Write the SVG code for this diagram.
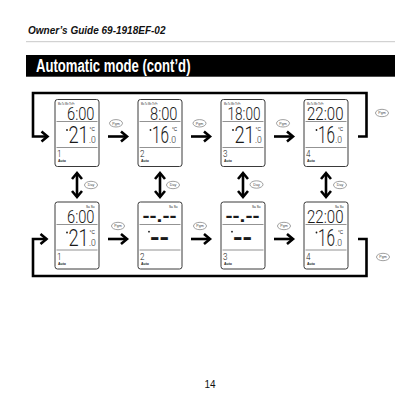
<svg xmlns="http://www.w3.org/2000/svg" width="420" height="420" viewBox="0 0 420 420">
<style>
.box{fill:#fff;stroke:#3a3a3a;stroke-width:1}
.div{stroke:#777;stroke-width:0.8}
text{font-family:"Liberation Sans",Arial,sans-serif}
.days{font-size:3.2px;fill:#222}
.time,.big,.small{font-family:Roboto,"Liberation Sans",sans-serif;font-weight:300;fill:#1a1a1a}
.time{font-size:19px}
.big{font-size:23.7px}
.small{font-size:8.5px}
.dash{font-size:19px;font-weight:bold;fill:#1a1a1a}
.bdash{font-size:23.7px;font-weight:bold;fill:#1a1a1a}
.deg{font-size:6px;fill:#1a1a1a}
.prog{font-family:Roboto,"Liberation Sans",sans-serif;font-weight:300;font-size:9.5px;fill:#1a1a1a}
.auto{font-size:3.5px;font-weight:bold;fill:#222}
.dot{fill:#1a1a1a}
.conn{stroke:#000;stroke-width:2.6;fill:none}
.oval{fill:#fff;stroke:#777;stroke-width:0.7}
.olbl{font-size:3.6px;fill:#444;text-anchor:middle}
</style>
<defs>
<marker id="ah" markerUnits="userSpaceOnUse" viewBox="0 0 10 12" markerWidth="10" markerHeight="12" refX="8.6" refY="6" orient="auto-start-reverse" overflow="visible">
<path d="M2.6,1 L8.6,6 L2.6,11" fill="none" stroke="#000" stroke-width="2.6"/>
</marker>
</defs>

<g id="header">
<text x="28" y="34.3" font-weight="bold" font-style="italic" font-size="10" fill="#111">Owner’s Guide 69-1918EF-02</text>
<line x1="26" y1="41.7" x2="395" y2="41.7" stroke="#c8c8c8" stroke-width="1"/>
<rect x="26" y="55" width="369" height="21.7" fill="#000"/>
<text x="36" y="72.3" fill="#fff" font-weight="bold" font-size="18" textLength="154.5" lengthAdjust="spacingAndGlyphs">Automatic mode (cont’d)</text>
</g>

<g id="connectors">
<path class="conn" d="M358,136.5 H366.5 V93 H33 V136.5 H47.5" marker-end="url(#ah)"/>
<path class="conn" d="M358,239 H366.5 V276 H33 V239 H46.5" marker-end="url(#ah)"/>
<path class="conn" d="M108,136.5 H127" marker-end="url(#ah)"/>
<path class="conn" d="M191,136.5 H210" marker-end="url(#ah)"/>
<path class="conn" d="M274,136.5 H293" marker-end="url(#ah)"/>
<path class="conn" d="M108,239 H127" marker-end="url(#ah)"/>
<path class="conn" d="M191,239 H210" marker-end="url(#ah)"/>
<path class="conn" d="M274,239 H293" marker-end="url(#ah)"/>
<path class="conn" d="M77,173 V197" marker-start="url(#ah)" marker-end="url(#ah)"/>
<path class="conn" d="M160,173 V197" marker-start="url(#ah)" marker-end="url(#ah)"/>
<path class="conn" d="M243,173 V197" marker-start="url(#ah)" marker-end="url(#ah)"/>
<path class="conn" d="M326,173 V197" marker-start="url(#ah)" marker-end="url(#ah)"/>
<g id="pgm-labels">
<ellipse class="oval" cx="116" cy="123.3" rx="6.5" ry="3.7"/><text class="olbl" x="116" y="124.6">Pgm</text>
<ellipse class="oval" cx="199.5" cy="123.3" rx="6.5" ry="3.7"/><text class="olbl" x="199.5" y="124.6">Pgm</text>
<ellipse class="oval" cx="283" cy="123.3" rx="6.5" ry="3.7"/><text class="olbl" x="283" y="124.6">Pgm</text>
<ellipse class="oval" cx="382" cy="113" rx="6.5" ry="3.7"/><text class="olbl" x="382" y="114.3">Pgm</text>
<ellipse class="oval" cx="118" cy="226" rx="6.5" ry="3.7"/><text class="olbl" x="118" y="227.3">Pgm</text>
<ellipse class="oval" cx="200" cy="226" rx="6.5" ry="3.7"/><text class="olbl" x="200" y="227.3">Pgm</text>
<ellipse class="oval" cx="284" cy="226" rx="6.5" ry="3.7"/><text class="olbl" x="284" y="227.3">Pgm</text>
<ellipse class="oval" cx="383" cy="257" rx="6.5" ry="3.7"/><text class="olbl" x="383" y="258.3">Pgm</text>
</g>
<g id="day-labels">
<ellipse class="oval" cx="91" cy="185" rx="6.5" ry="3.7"/><text class="olbl" x="91" y="186.3">Day</text>
<ellipse class="oval" cx="173" cy="185" rx="6.5" ry="3.7"/><text class="olbl" x="173" y="186.3">Day</text>
<ellipse class="oval" cx="256.5" cy="184.5" rx="6.5" ry="3.7"/><text class="olbl" x="256.5" y="185.8">Day</text>
<ellipse class="oval" cx="340" cy="185" rx="6.5" ry="3.7"/><text class="olbl" x="340" y="186.3">Day</text>
</g>
</g>

<g id="top1" transform="translate(55,99.5)">
<rect class="box" x="0" y="0" width="44" height="67" rx="2.5"/>
<text class="days" x="3" y="5.5" textLength="16.5" lengthAdjust="spacingAndGlyphs">Mo Tu We Th Fr</text>
<text class="time" x="39.5" y="20" text-anchor="end" textLength="27.5" lengthAdjust="spacingAndGlyphs">6:00</text>
<line class="div" x1="1.5" y1="22" x2="42.5" y2="22"/>
<circle class="dot" cx="12" cy="30.5" r="0.9"/>
<text class="big" x="13.4" y="43.5" textLength="20.3" lengthAdjust="spacingAndGlyphs">21</text>
<text class="deg" x="34.6" y="31" textLength="5.2" lengthAdjust="spacingAndGlyphs">°C</text>
<text class="small" x="34" y="43.5" textLength="6.8" lengthAdjust="spacingAndGlyphs">.0</text>
<line class="div" x1="1.5" y1="48" x2="42.5" y2="48"/>
<text class="prog" x="2" y="57" textLength="4.5" lengthAdjust="spacingAndGlyphs">1</text>
<text class="auto" x="3" y="62">Auto</text>
</g>
<g id="top2" transform="translate(138,99.5)">
<rect class="box" x="0" y="0" width="44" height="67" rx="2.5"/>
<text class="days" x="3" y="5.5" textLength="16.5" lengthAdjust="spacingAndGlyphs">Mo Tu We Th Fr</text>
<text class="time" x="39.5" y="20" text-anchor="end" textLength="27.5" lengthAdjust="spacingAndGlyphs">8:00</text>
<line class="div" x1="1.5" y1="22" x2="42.5" y2="22"/>
<circle class="dot" cx="12.5" cy="30.5" r="0.9"/>
<text class="big" x="14" y="43.5" textLength="17" lengthAdjust="spacingAndGlyphs">16</text>
<text class="deg" x="34" y="31" textLength="5.2" lengthAdjust="spacingAndGlyphs">°C</text>
<text class="small" x="31.3" y="43.5" textLength="6.8" lengthAdjust="spacingAndGlyphs">.0</text>
<line class="div" x1="1.5" y1="48" x2="42.5" y2="48"/>
<text class="prog" x="2" y="57" textLength="4.5" lengthAdjust="spacingAndGlyphs">2</text>
<text class="auto" x="3" y="62">Auto</text>
</g>
<g id="top3" transform="translate(221,99.5)">
<rect class="box" x="0" y="0" width="44" height="67" rx="2.5"/>
<text class="days" x="3" y="5.5" textLength="16.5" lengthAdjust="spacingAndGlyphs">Mo Tu We Th Fr</text>
<text class="time" x="39.5" y="20" text-anchor="end" textLength="33" lengthAdjust="spacingAndGlyphs">18:00</text>
<line class="div" x1="1.5" y1="22" x2="42.5" y2="22"/>
<circle class="dot" cx="12" cy="30.5" r="0.9"/>
<text class="big" x="13.4" y="43.5" textLength="20.3" lengthAdjust="spacingAndGlyphs">21</text>
<text class="deg" x="34.6" y="31" textLength="5.2" lengthAdjust="spacingAndGlyphs">°C</text>
<text class="small" x="34" y="43.5" textLength="6.8" lengthAdjust="spacingAndGlyphs">.0</text>
<line class="div" x1="1.5" y1="48" x2="42.5" y2="48"/>
<text class="prog" x="2" y="57" textLength="4.5" lengthAdjust="spacingAndGlyphs">3</text>
<text class="auto" x="3" y="62">Auto</text>
</g>
<g id="top4" transform="translate(304,99.5)">
<rect class="box" x="0" y="0" width="44" height="67" rx="2.5"/>
<text class="days" x="3" y="5.5" textLength="16.5" lengthAdjust="spacingAndGlyphs">Mo Tu We Th Fr</text>
<text class="time" x="39.5" y="20" text-anchor="end" textLength="36.5" lengthAdjust="spacingAndGlyphs">22:00</text>
<line class="div" x1="1.5" y1="22" x2="42.5" y2="22"/>
<circle class="dot" cx="12.5" cy="30.5" r="0.9"/>
<text class="big" x="14" y="43.5" textLength="17" lengthAdjust="spacingAndGlyphs">16</text>
<text class="deg" x="34" y="31" textLength="5.2" lengthAdjust="spacingAndGlyphs">°C</text>
<text class="small" x="31.3" y="43.5" textLength="6.8" lengthAdjust="spacingAndGlyphs">.0</text>
<line class="div" x1="1.5" y1="48" x2="42.5" y2="48"/>
<text class="prog" x="2" y="57" textLength="4.5" lengthAdjust="spacingAndGlyphs">4</text>
<text class="auto" x="3" y="62">Auto</text>
</g>

<g id="bot1" transform="translate(55,202)">
<rect class="box" x="0" y="0" width="44" height="67" rx="2.5"/>
<text class="days" x="39.5" y="6" text-anchor="end" textLength="8.5" lengthAdjust="spacingAndGlyphs">Sa Su</text>
<text class="time" x="39.5" y="20.5" text-anchor="end" textLength="27.5" lengthAdjust="spacingAndGlyphs">6:00</text>
<line class="div" x1="1.5" y1="22.5" x2="42.5" y2="22.5"/>
<circle class="dot" cx="12" cy="30.5" r="0.9"/>
<text class="big" x="13.4" y="44" textLength="20.3" lengthAdjust="spacingAndGlyphs">21</text>
<text class="deg" x="34.6" y="31.5" textLength="5.2" lengthAdjust="spacingAndGlyphs">°C</text>
<text class="small" x="34" y="44" textLength="6.8" lengthAdjust="spacingAndGlyphs">.0</text>
<line class="div" x1="1.5" y1="48" x2="42.5" y2="48"/>
<text class="prog" x="2" y="57.5" textLength="4.5" lengthAdjust="spacingAndGlyphs">1</text>
<text class="auto" x="3" y="62.5">Auto</text>
</g>
<g id="bot2" transform="translate(138,202)">
<rect class="box" x="0" y="0" width="44" height="67" rx="2.5"/>
<text class="days" x="39.5" y="6" text-anchor="end" textLength="8.5" lengthAdjust="spacingAndGlyphs">Sa Su</text>
<text class="dash" x="38.5" y="20" text-anchor="end" textLength="34" lengthAdjust="spacingAndGlyphs">--.--</text>
<line class="div" x1="1.5" y1="22.5" x2="42.5" y2="22.5"/>
<circle class="dot" cx="11" cy="29.7" r="0.9"/>
<text class="bdash" x="12" y="43" textLength="19" lengthAdjust="spacingAndGlyphs">--</text>
<line class="div" x1="1.5" y1="48" x2="42.5" y2="48"/>
<text class="prog" x="2" y="57.5" textLength="4.5" lengthAdjust="spacingAndGlyphs">2</text>
<text class="auto" x="3" y="62.5">Auto</text>
</g>
<g id="bot3" transform="translate(221,202)">
<rect class="box" x="0" y="0" width="44" height="67" rx="2.5"/>
<text class="days" x="39.5" y="6" text-anchor="end" textLength="8.5" lengthAdjust="spacingAndGlyphs">Sa Su</text>
<text class="dash" x="38.5" y="20" text-anchor="end" textLength="34" lengthAdjust="spacingAndGlyphs">--.--</text>
<line class="div" x1="1.5" y1="22.5" x2="42.5" y2="22.5"/>
<circle class="dot" cx="11" cy="29.7" r="0.9"/>
<text class="bdash" x="12" y="43" textLength="19" lengthAdjust="spacingAndGlyphs">--</text>
<line class="div" x1="1.5" y1="48" x2="42.5" y2="48"/>
<text class="prog" x="2" y="57.5" textLength="4.5" lengthAdjust="spacingAndGlyphs">3</text>
<text class="auto" x="3" y="62.5">Auto</text>
</g>
<g id="bot4" transform="translate(304,202)">
<rect class="box" x="0" y="0" width="44" height="67" rx="2.5"/>
<text class="days" x="39.5" y="6" text-anchor="end" textLength="8.5" lengthAdjust="spacingAndGlyphs">Sa Su</text>
<text class="time" x="39.5" y="20.5" text-anchor="end" textLength="36.5" lengthAdjust="spacingAndGlyphs">22:00</text>
<line class="div" x1="1.5" y1="22.5" x2="42.5" y2="22.5"/>
<circle class="dot" cx="12.5" cy="30.5" r="0.9"/>
<text class="big" x="14" y="44" textLength="17" lengthAdjust="spacingAndGlyphs">16</text>
<text class="deg" x="34" y="31.5" textLength="5.2" lengthAdjust="spacingAndGlyphs">°C</text>
<text class="small" x="31.3" y="44" textLength="6.8" lengthAdjust="spacingAndGlyphs">.0</text>
<line class="div" x1="1.5" y1="48" x2="42.5" y2="48"/>
<text class="prog" x="2" y="57.5" textLength="4.5" lengthAdjust="spacingAndGlyphs">4</text>
<text class="auto" x="3" y="62.5">Auto</text>
</g>

<text x="210" y="387.5" text-anchor="middle" font-size="10" fill="#111">14</text>
</svg>
